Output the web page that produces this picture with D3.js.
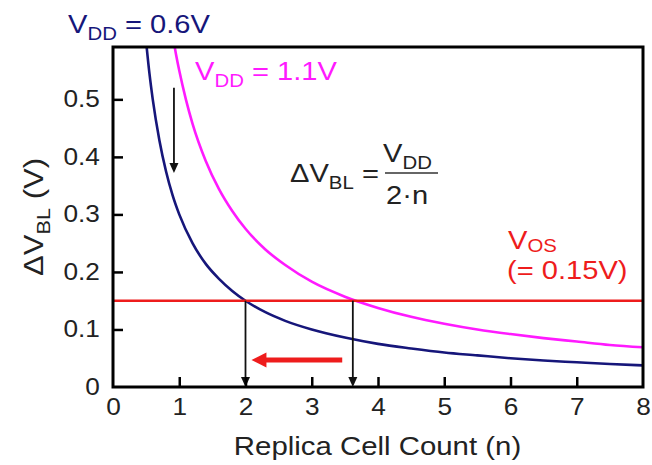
<!DOCTYPE html>
<html><head><meta charset="utf-8">
<script src="https://cdn.jsdelivr.net/npm/d3@7"></script>
<style>
html,body{margin:0;padding:0;background:#fff;}
svg{display:block;font-family:"Liberation Sans",Arial,Helvetica,sans-serif;}
</style></head>
<body>
<svg id="chart" width="652" height="465"></svg>
<script>
// ---- data ----
const nLow = [0.5, 0.55, 0.6, 0.7, 0.8, 0.9, 1.0, 1.2, 1.4, 1.6, 1.8, 2.0, 2.3, 2.6, 3.0, 3.5, 4.0, 4.5, 5.0, 5.5, 6.0, 6.5, 7.0, 7.5, 8.0];
const dvbl06 = [0.600, 0.545, 0.500, 0.429, 0.375, 0.333, 0.300, 0.250, 0.214, 0.188, 0.167, 0.150, 0.130, 0.115, 0.100, 0.086, 0.075, 0.067, 0.060, 0.055, 0.050, 0.046, 0.043, 0.040, 0.0375];
const nHigh = [0.9, 0.95, 1.0, 1.1, 1.2, 1.4, 1.6, 1.8, 2.0, 2.3, 2.6, 3.0, 3.5, 4.0, 4.5, 5.0, 5.5, 6.0, 6.5, 7.0, 7.5, 8.0];
const dvbl11 = [0.611, 0.579, 0.550, 0.500, 0.458, 0.393, 0.344, 0.306, 0.275, 0.239, 0.212, 0.183, 0.157, 0.1375, 0.122, 0.110, 0.100, 0.092, 0.085, 0.079, 0.073, 0.069];
const vos = 0.15;
const xTicks = [0, 1, 2, 3, 4, 5, 6, 7, 8];
const yTicks = [0, 0.1, 0.2, 0.3, 0.4, 0.5];
const yTickLabels = ["0", "0.1", "0.2", "0.3", "0.4", "0.5"];
// annotation arrows: [n, from, to]
const downArrows = [[0.92, 0.52, 0.372], [2.0, 0.15, 0.0], [3.62, 0.15, 0.0]];
const redArrow = [3.46, 2.09, 0.047]; // from n, to n, at dVBL

// ---- layout ----
const L = 113, R = 643, T = 47, B = 387;
const SX = 1.12;
const navy = "#16167a", magenta = "#ff1aff", red = "#ee1c1c";

const svg = d3.select("#chart");
const x = d3.scaleLinear().domain([0, 8]).range([L, R]);
const y = d3.scaleLinear().domain([0, 0.591]).range([B, T]);

svg.append("clipPath").attr("id", "clip")
  .append("rect").attr("x", L).attr("y", T).attr("width", R - L).attr("height", B - T);

const line = d3.line().x(d => x(d[0])).y(d => y(d[1])).curve(d3.curveMonotoneX);
const plot = svg.append("g").attr("clip-path", "url(#clip)");

plot.append("path").datum(nLow.map((n, i) => [n, dvbl06[i]]))
  .attr("d", line).attr("fill", "none").attr("stroke", navy).attr("stroke-width", 2.6);
plot.append("path").datum(nHigh.map((n, i) => [n, dvbl11[i]]))
  .attr("d", line).attr("fill", "none").attr("stroke", magenta).attr("stroke-width", 2.6);

// V_OS line
plot.append("line").attr("x1", x(0)).attr("x2", x(8)).attr("y1", y(vos)).attr("y2", y(vos))
  .attr("stroke", red).attr("stroke-width", 2.6);

// black down arrows
downArrows.forEach(([n, a, b]) => {
  const px = x(n), y0 = y(a), y1 = y(b);
  svg.append("line").attr("x1", px).attr("x2", px).attr("y1", y0).attr("y2", y1 - 8)
    .attr("stroke", "#111").attr("stroke-width", 1.8);
  svg.append("path").attr("d", `M${px - 4.5},${y1 - 10}L${px + 4.5},${y1 - 10}L${px},${y1}Z`).attr("fill", "#111");
});

// red left arrow
{
  const x0 = x(redArrow[0]), x1 = x(redArrow[1]), py = y(redArrow[2]);
  svg.append("line").attr("x1", x0).attr("x2", x1 + 12).attr("y1", py).attr("y2", py)
    .attr("stroke", red).attr("stroke-width", 5);
  svg.append("path").attr("d", `M${x1 + 15},${py - 7.5}L${x1 + 15},${py + 7.5}L${x1},${py}Z`).attr("fill", red);
}

// frame
svg.append("rect").attr("x", L).attr("y", T).attr("width", R - L).attr("height", B - T)
  .attr("fill", "none").attr("stroke", "#000").attr("stroke-width", 3);

// axes
const xAxis = d3.axisBottom(x).tickValues(xTicks).tickFormat(d3.format("d"))
  .tickSizeInner(-10).tickSizeOuter(0).tickPadding(12);
const gx = svg.append("g").attr("transform", `translate(0,${B})`).call(xAxis);
const yAxis = d3.axisLeft(y).tickValues(yTicks).tickFormat((d, i) => yTickLabels[i])
  .tickSizeInner(-10).tickSizeOuter(0).tickPadding(11.5);
const gy = svg.append("g").attr("transform", `translate(${L},0)`).call(yAxis);
[gx, gy].forEach(g => {
  g.select(".domain").remove();
  g.selectAll(".tick line").attr("stroke", "#000").attr("stroke-width", 2.5);
  g.selectAll(".tick text").attr("fill", "#222").attr("font-size", 23)
    .attr("font-family", "Liberation Sans, Arial, sans-serif")
    .attr("transform", `scale(${SX + 0.02},1)`);
});
gx.selectAll(".tick line").filter(d => d === 0 || d === 8).remove();
gy.selectAll(".tick line").filter(d => d === 0).remove();

// text helper: parts = [[str, sub?]]
function label(px, py, parts, color, size, opts = {}) {
  const g = svg.append("g").attr("transform",
    `translate(${px},${py})${opts.rotate ? ` rotate(${opts.rotate})` : ""} scale(${opts.sx || SX},1)`);
  const t = g.append("text").attr("fill", color).attr("font-size", size)
    .attr("text-anchor", opts.anchor || "start");
  const shift = opts.subShift != null ? opts.subShift : size * 0.25;
  let sub = false;
  parts.forEach(([s, isSub]) => {
    const ts = t.append("tspan").text(s);
    if (isSub && !sub) { ts.attr("font-size", size * 0.7).attr("dy", shift); sub = true; }
    else if (!isSub && sub) { ts.attr("dy", -shift); sub = false; }
    else if (isSub) ts.attr("font-size", size * 0.7);
  });
  return t;
}

label(68, 33, [["V"], ["DD", true], [" = 0.6V"]], navy, 26);
label(195, 80, [["V"], ["DD", true], [" = 1.1V"]], magenta, 26);
label(508, 249, [["V"], ["OS", true]], red, 26, { subShift: 3 });
label(507, 279, [["(= 0.15V)"]], red, 26);

// formula
label(290, 182, [["\u0394V"], ["BL", true], [" ="]], "#222", 26);
label(383, 162, [["V"], ["DD", true]], "#222", 26);
svg.append("line").attr("x1", 385).attr("x2", 438).attr("y1", 173).attr("y2", 173)
  .attr("stroke", "#333").attr("stroke-width", 1.6);
label(386, 204, [["2\u00b7n"]], "#222", 26);

// axis titles
label(377.5, 455, [["Replica Cell Count (n)"]], "#222", 26, { anchor: "middle", sx: 1.13 });
label(43, 217, [["\u0394V"], ["BL", true], [" (V)"]], "#222", 27, { anchor: "middle", rotate: -90, sx: 1.15 });
</script>
</body></html>
